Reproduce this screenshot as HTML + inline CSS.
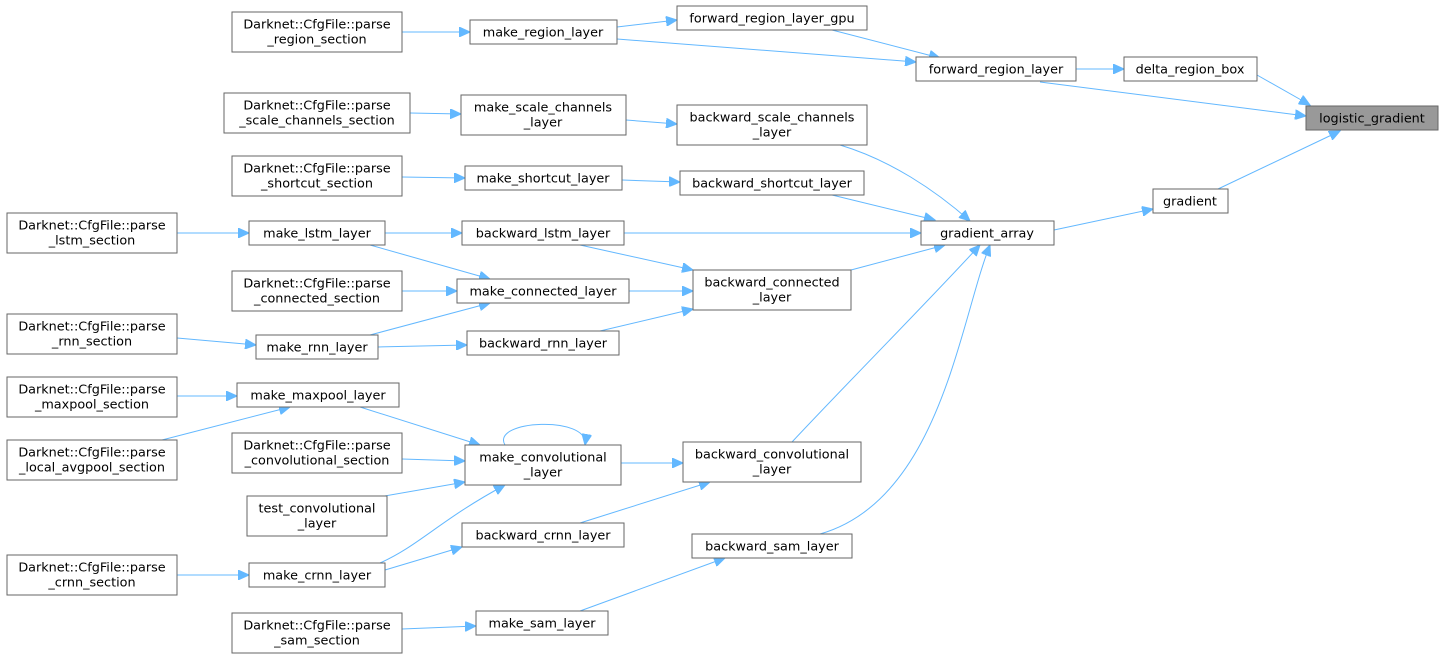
<!DOCTYPE html>
<html><head><meta charset="utf-8"><style>
html,body{margin:0;padding:0;background:#fff;}
svg{display:block}
text{font-family:"DejaVu Sans","Liberation Sans",sans-serif;font-size:12.8px;fill:#000;text-anchor:middle}
rect{fill:#fff;stroke:#666;stroke-width:1}
path,line{stroke:#63b8ff;stroke-width:1;fill:none}
</style></head><body>
<svg width="1443" height="659" viewBox="0 0 1443 659">
<defs><marker id="a" markerUnits="userSpaceOnUse" markerWidth="12" markerHeight="10" refX="11" refY="5" orient="auto"><path d="M0,0 L11,5 L0,10 Z" style="fill:#63b8ff;stroke:#63b8ff"/></marker></defs>
<g marker-end="url(#a)">
<line x1="1257" y1="75" x2="1310" y2="105"/>
<line x1="1040" y1="82" x2="1306" y2="116"/>
<line x1="1218" y1="189" x2="1340" y2="131"/>
<line x1="1076" y1="69" x2="1124" y2="69"/>
<line x1="1054" y1="230" x2="1153" y2="209"/>
<line x1="832" y1="30" x2="940" y2="58"/>
<line x1="617" y1="39" x2="916" y2="62"/>
<line x1="617" y1="27" x2="677" y2="20"/>
<line x1="402" y1="32" x2="470" y2="32"/>
<path d="M840,145 C890,160 935,190 970,221"/>
<line x1="626" y1="120" x2="677" y2="124"/>
<line x1="410" y1="113" x2="461" y2="114"/>
<line x1="832" y1="195" x2="935" y2="220"/>
<line x1="622" y1="180" x2="680" y2="182"/>
<line x1="402" y1="177" x2="465" y2="178"/>
<line x1="624" y1="233" x2="921" y2="233"/>
<line x1="385" y1="233" x2="462" y2="233"/>
<line x1="177" y1="233" x2="249" y2="233"/>
<line x1="370" y1="245" x2="490" y2="279"/>
<line x1="402" y1="291" x2="457" y2="291"/>
<line x1="370" y1="335" x2="490" y2="303"/>
<line x1="629" y1="291" x2="693" y2="291"/>
<line x1="851" y1="270" x2="945" y2="245"/>
<line x1="580" y1="245" x2="693" y2="270"/>
<line x1="600" y1="331" x2="693" y2="309"/>
<line x1="378" y1="347" x2="467" y2="345"/>
<line x1="177" y1="338" x2="256" y2="345"/>
<line x1="177" y1="396" x2="237" y2="396"/>
<line x1="162" y1="440" x2="290" y2="407"/>
<line x1="360" y1="407" x2="480" y2="445"/>
<line x1="402" y1="459" x2="465" y2="461"/>
<line x1="362" y1="500" x2="465" y2="482"/>
<path d="M380,563 C420,545 440,520 505,485"/>
<path d="M505,445 C490,420 590,415 585,445"/>
<line x1="621" y1="463" x2="683" y2="463"/>
<path d="M792,442 C850,380 920,310 980,245"/>
<line x1="580" y1="523" x2="710" y2="482"/>
<line x1="385" y1="570" x2="462" y2="547"/>
<line x1="177" y1="575" x2="249" y2="575"/>
<path d="M820,534 C940,500 960,320 990,245"/>
<line x1="580" y1="611" x2="725" y2="558"/>
<line x1="402" y1="629" x2="476" y2="626"/>
</g>
<g>
<rect x="1306" y="106" width="132" height="24" style="fill:#999"/><text x="1372" y="122.5">logistic_gradient</text>
<rect x="1124" y="57" width="133" height="24"/><text x="1190" y="73.5">delta_region_box</text>
<rect x="1153" y="189" width="75" height="24"/><text x="1190" y="205.5">gradient</text>
<rect x="916" y="57" width="160" height="24"/><text x="996" y="73.5">forward_region_layer</text>
<rect x="677" y="6" width="190" height="24"/><text x="772" y="22.5">forward_region_layer_gpu</text>
<rect x="921" y="221" width="133" height="24"/><text x="987" y="237.5">gradient_array</text>
<rect x="470" y="20" width="147" height="24"/><text x="543" y="36.5">make_region_layer</text>
<rect x="232" y="12" width="170" height="40"/><text x="317" y="28.5">Darknet::CfgFile::parse</text><text x="317" y="43.5">_region_section</text>
<rect x="677" y="105" width="190" height="40"/><text x="772" y="121.5">backward_scale_channels</text><text x="772" y="136.5">_layer</text>
<rect x="461" y="95" width="165" height="40"/><text x="543" y="111.5">make_scale_channels</text><text x="543" y="126.5">_layer</text>
<rect x="224" y="93" width="186" height="40"/><text x="317" y="109.5">Darknet::CfgFile::parse</text><text x="317" y="124.5">_scale_channels_section</text>
<rect x="680" y="171" width="184" height="24"/><text x="772" y="187.5">backward_shortcut_layer</text>
<rect x="465" y="166" width="157" height="24"/><text x="543" y="182.5">make_shortcut_layer</text>
<rect x="232" y="156" width="170" height="40"/><text x="317" y="172.5">Darknet::CfgFile::parse</text><text x="317" y="187.5">_shortcut_section</text>
<rect x="462" y="221" width="162" height="24"/><text x="543" y="237.5">backward_lstm_layer</text>
<rect x="249" y="221" width="136" height="24"/><text x="317" y="237.5">make_lstm_layer</text>
<rect x="7" y="213" width="170" height="40"/><text x="92" y="229.5">Darknet::CfgFile::parse</text><text x="92" y="244.5">_lstm_section</text>
<rect x="693" y="270" width="158" height="40"/><text x="772" y="286.5">backward_connected</text><text x="772" y="301.5">_layer</text>
<rect x="457" y="279" width="172" height="24"/><text x="543" y="295.5">make_connected_layer</text>
<rect x="232" y="271" width="170" height="40"/><text x="317" y="287.5">Darknet::CfgFile::parse</text><text x="317" y="302.5">_connected_section</text>
<rect x="7" y="314" width="170" height="40"/><text x="92" y="330.5">Darknet::CfgFile::parse</text><text x="92" y="345.5">_rnn_section</text>
<rect x="256" y="335" width="122" height="24"/><text x="317" y="351.5">make_rnn_layer</text>
<rect x="467" y="331" width="152" height="24"/><text x="543" y="347.5">backward_rnn_layer</text>
<rect x="237" y="383" width="162" height="24"/><text x="318" y="399.5">make_maxpool_layer</text>
<rect x="7" y="377" width="170" height="40"/><text x="92" y="393.5">Darknet::CfgFile::parse</text><text x="92" y="408.5">_maxpool_section</text>
<rect x="7" y="440" width="170" height="40"/><text x="92" y="456.5">Darknet::CfgFile::parse</text><text x="92" y="471.5">_local_avgpool_section</text>
<rect x="465" y="445" width="156" height="40"/><text x="543" y="461.5">make_convolutional</text><text x="543" y="476.5">_layer</text>
<rect x="232" y="433" width="170" height="40"/><text x="317" y="449.5">Darknet::CfgFile::parse</text><text x="317" y="464.5">_convolutional_section</text>
<rect x="683" y="442" width="178" height="40"/><text x="772" y="458.5">backward_convolutional</text><text x="772" y="473.5">_layer</text>
<rect x="247" y="496" width="140" height="40"/><text x="317" y="512.5">test_convolutional</text><text x="317" y="527.5">_layer</text>
<rect x="462" y="523" width="162" height="24"/><text x="543" y="539.5">backward_crnn_layer</text>
<rect x="692" y="534" width="160" height="24"/><text x="772" y="550.5">backward_sam_layer</text>
<rect x="249" y="563" width="136" height="24"/><text x="317" y="579.5">make_crnn_layer</text>
<rect x="7" y="555" width="170" height="40"/><text x="92" y="571.5">Darknet::CfgFile::parse</text><text x="92" y="586.5">_crnn_section</text>
<rect x="476" y="611" width="132" height="24"/><text x="542" y="627.5">make_sam_layer</text>
<rect x="232" y="613" width="170" height="40"/><text x="317" y="629.5">Darknet::CfgFile::parse</text><text x="317" y="644.5">_sam_section</text>
</g>
</svg>
</body></html>
